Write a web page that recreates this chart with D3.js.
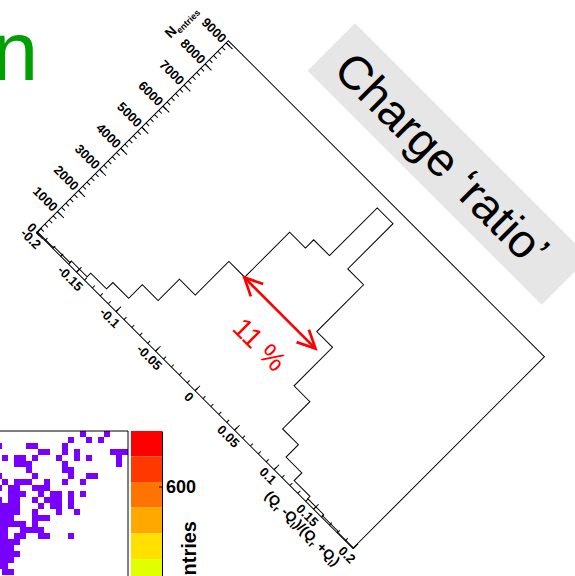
<!DOCTYPE html>
<html>
<head>
<meta charset="utf-8">
<script src="https://cdn.jsdelivr.net/npm/d3@7"></script>
<style>
body { margin: 0; background: #fff; }
svg { display: block; }
</style>
</head>
<body>
<svg id="chart" width="575" height="576"></svg>
<script>
// charge ratio histogram, bins of 0.02
var binLow = [-0.2, -0.18, -0.16, -0.14, -0.12, -0.1, -0.08, -0.06, -0.04, -0.02, 0, 0.02, 0.04, 0.06, 0.08, 0.1, 0.12, 0.14, 0.16, 0.18];
var binHigh = [-0.18, -0.16, -0.14, -0.12, -0.1, -0.08, -0.06, -0.04, -0.02, 0, 0.02, 0.04, 0.06, 0.08, 0.1, 0.12, 0.14, 0.16, 0.18, 0.2];
var counts = [30, 70, 140, 313, 615, 1260, 2272, 3866, 5997, 6387, 8652, 6504, 4286, 2461, 1170, 582, 218, 110, 55, 25];
var yMax = 9085;

var xTicks = [-0.2, -0.15, -0.1, -0.05, 0, 0.05, 0.1, 0.15, 0.2];
var xTickLabels = ["-0.2", "-0.15", "-0.1", "-0.05", "0", "0.05", "0.1", "0.15", "0.2"];
var yTicks = [0, 1000, 2000, 3000, 4000, 5000, 6000, 7000, 8000, 9000];
var yTickLabels = ["0", "1000", "2000", "3000", "4000", "5000", "6000", "7000", "8000", "9000"];

// the red width annotation
var arrowX = [-0.04, 0.05];
var arrowY = 3850;
var arrowText = "11 %";
var arrowTextAt = [0.012, 2620];

// 2d histogram corner (cells per row, counted from the top)
var cellRows = [
	[14, 18],
	[12, 15, 17],
	[0, 5, 6, 11],
	[7, 8, 11, 13, 19, 20, 21],
	[1, 3, 4, 6, 10, 13, 15, 20],
	[3, 4, 5, 11, 20],
	[5, 11, 12],
	[0, 6, 12, 15, 16],
	[1, 3, 4, 5, 8, 11, 14],
	[0, 2, 3, 6, 7, 8],
	[2, 3, 4, 7, 9, 10, 12, 14],
	[0, 2, 3, 6, 8, 9, 10, 12],
	[0, 1, 2, 3, 7, 9, 10, 12],
	[0, 1, 2, 3, 6, 10, 13],
	[0, 1, 2, 6, 7, 8],
	[0, 1, 2, 3, 4, 6],
	[0, 1, 4, 5, 6, 7],
	[0, 1, 3, 4, 7, 8, 12],
	[0, 1, 2, 3],
	[0, 1, 2],
	[0, 1, 2, 3],
	[0, 1, 2],
	[0, 1],
	[1, 2]
];
var zBandLow = [660, 609, 558, 506, 455, 404];
var zBandHigh = [711, 660, 609, 558, 506, 455];
var zBandColors = ["#ff0000", "#ff3800", "#ff7400", "#ffa800", "#ffe000", "#e0ff00"];
var zTicks = [600];

var svg = d3.select("#chart");
var font = "'Liberation Sans', Arial, Helvetica, sans-serif";

// green letter cut by the page edge
svg.append("text")
	.attr("x", -8)
	.attr("y", 80)
	.attr("font-family", font)
	.attr("font-size", 83)
	.attr("fill", "#00a000")
	.text("n");

// grey title box
var box = svg.append("g")
	.attr("transform", "translate(355,23.3) rotate(45)");
box.append("rect")
	.attr("x", 0)
	.attr("y", 0)
	.attr("width", 331)
	.attr("height", 67)
	.attr("fill", "#e6e6e6");
box.append("text")
	.attr("x", 18)
	.attr("y", 51)
	.attr("font-family", font)
	.attr("font-size", 47)
	.attr("fill", "#000")
	.text("Charge \u2018ratio\u2019");

// rotated histogram
var hist = svg.append("g")
	.attr("transform", "translate(36.7,232.3) rotate(45)");

var x = d3.scaleLinear().domain([-0.2, 0.2]).range([0, 447]);
var y = d3.scaleLinear().domain([0, yMax]).range([0, -271]);

hist.append("rect")
	.attr("x", x(-0.2))
	.attr("y", y(yMax))
	.attr("width", x(0.2) - x(-0.2))
	.attr("height", y(0) - y(yMax))
	.attr("fill", "none")
	.attr("stroke", "#000")
	.attr("stroke-width", 1);

var pts = [[binLow[0], 0]];
counts.forEach(function (c, i) {
	pts.push([binLow[i], c]);
	pts.push([binHigh[i], c]);
});
pts.push([binHigh[binHigh.length - 1], 0]);

hist.append("path")
	.attr("d", d3.line().x(function (d) { return x(d[0]); }).y(function (d) { return y(d[1]); })(pts))
	.attr("fill", "none")
	.attr("stroke", "#000")
	.attr("stroke-width", 1);

function styleAxis(g, size) {
	g.select(".domain").remove();
	g.selectAll("line").attr("stroke", "#000");
	g.selectAll("text")
		.attr("font-family", font)
		.attr("font-weight", "bold")
		.attr("font-size", size)
		.attr("fill", "#000");
}

var xMinor = d3.range(-20, 21).map(function (k) { return k / 100; });
var yMinor = d3.range(0, 46).map(function (k) { return k * 200; });

hist.append("g")
	.call(d3.axisBottom(x).tickValues(xMinor).tickSize(-3.5).tickSizeOuter(0).tickFormat(""))
	.call(styleAxis, 13);
hist.append("g")
	.call(d3.axisBottom(x).tickValues(xTicks).tickSize(-7).tickSizeOuter(0).tickPadding(4)
		.tickFormat(function (d, i) { return xTickLabels[i]; }))
	.call(styleAxis, 13);
hist.append("g")
	.call(d3.axisLeft(y).tickValues(yMinor.filter(function (v) { return v <= yMax; })).tickSize(-4.5).tickSizeOuter(0).tickFormat(""))
	.call(styleAxis, 13);
hist.append("g")
	.call(d3.axisLeft(y).tickValues(yTicks).tickSize(-9).tickSizeOuter(0).tickPadding(3)
		.tickFormat(function (d, i) { return yTickLabels[i]; }))
	.call(styleAxis, 13);

// axis titles
var xt = hist.append("text")
	.attr("x", x(0.2))
	.attr("y", 26)
	.attr("text-anchor", "end")
	.attr("font-family", font)
	.attr("font-weight", "bold")
	.attr("font-size", 14);
xt.append("tspan").text("(Q");
xt.append("tspan").attr("font-size", 9.5).attr("dy", 3.5).text("r");
xt.append("tspan").attr("dy", -3.5).text(" -Q");
xt.append("tspan").attr("font-size", 9.5).attr("dy", 3.5).text("l");
xt.append("tspan").attr("dy", -3.5).text(")/(Q");
xt.append("tspan").attr("font-size", 9.5).attr("dy", 3.5).text("r");
xt.append("tspan").attr("dy", -3.5).text(" +Q");
xt.append("tspan").attr("font-size", 9.5).attr("dy", 3.5).text("l");
xt.append("tspan").attr("dy", -3.5).text(")");

var yt = hist.append("text")
	.attr("transform", "translate(-42," + y(yMax) + ") rotate(-90)")
	.attr("text-anchor", "end")
	.attr("font-family", font)
	.attr("font-weight", "bold")
	.attr("font-size", 14);
yt.append("tspan").text("N");
yt.append("tspan").attr("font-size", 9).attr("dy", 3).text("entries");

// width arrow
var arrow = hist.append("g")
	.attr("stroke", "#ff0000")
	.attr("stroke-width", 2.7)
	.attr("fill", "none");
arrow.append("line")
	.attr("x1", x(arrowX[0]))
	.attr("y1", y(arrowY))
	.attr("x2", x(arrowX[1]))
	.attr("y2", y(arrowY));
var headL = 20, headA = 26 * Math.PI / 180;
[[arrowX[0], 1], [arrowX[1], -1]].forEach(function (a) {
	var tx = x(a[0]), ty = y(arrowY);
	arrow.append("path")
		.attr("d", "M" + (tx + a[1] * headL * Math.cos(headA)) + "," + (ty - headL * Math.sin(headA)) +
			"L" + tx + "," + ty +
			"L" + (tx + a[1] * headL * Math.cos(headA)) + "," + (ty + headL * Math.sin(headA)));
});
hist.append("text")
	.attr("x", x(arrowTextAt[0]))
	.attr("y", y(arrowTextAt[1]))
	.attr("text-anchor", "middle")
	.attr("dominant-baseline", "central")
	.attr("font-family", font)
	.attr("font-size", 28)
	.attr("fill", "#ff0000")
	.text(arrowText);

// 2d histogram and palette in the corner
var cx = d3.scaleLinear().domain([0, 22]).range([-4, 128]);
var cy = d3.scaleLinear().domain([0, 24]).range([431, 575]);
var cells = [];
cellRows.forEach(function (row, r) {
	row.forEach(function (i) { cells.push([i, r]); });
});
svg.append("g").selectAll("rect")
	.data(cells)
	.join("rect")
	.attr("x", function (d) { return cx(d[0]); })
	.attr("y", function (d) { return cy(d[1]); })
	.attr("width", cx(1) - cx(0))
	.attr("height", cy(1) - cy(0))
	.attr("fill", "#7700ff");

svg.append("path")
	.attr("d", "M0," + cy(0) + "H" + cx(22) + "V576")
	.attr("fill", "none")
	.attr("stroke", "#000")
	.attr("stroke-width", 1);

var z = d3.scaleLinear().domain([0, 711]).range([786.7, 431]);
svg.append("g").selectAll("rect")
	.data(zBandColors)
	.join("rect")
	.attr("x", 131)
	.attr("y", function (d, i) { return z(zBandHigh[i]); })
	.attr("width", 31)
	.attr("height", function (d, i) { return z(zBandLow[i]) - z(zBandHigh[i]); })
	.attr("fill", function (d) { return d; });

var zAxis = svg.append("g")
	.attr("transform", "translate(162,0)")
	.call(d3.axisRight(z).tickValues(zTicks).tickSize(-3).tickSizeOuter(0).tickPadding(4));
zAxis.select(".domain").attr("stroke", "#000");
zAxis.selectAll("text")
	.attr("font-family", font)
	.attr("font-weight", "bold")
	.attr("font-size", 18)
	.attr("fill", "#000");

svg.append("text")
	.attr("transform", "translate(196,521) rotate(-90)")
	.attr("text-anchor", "end")
	.attr("font-family", font)
	.attr("font-weight", "bold")
	.attr("font-size", 20)
	.text("Entries");
</script>
</body>
</html>
